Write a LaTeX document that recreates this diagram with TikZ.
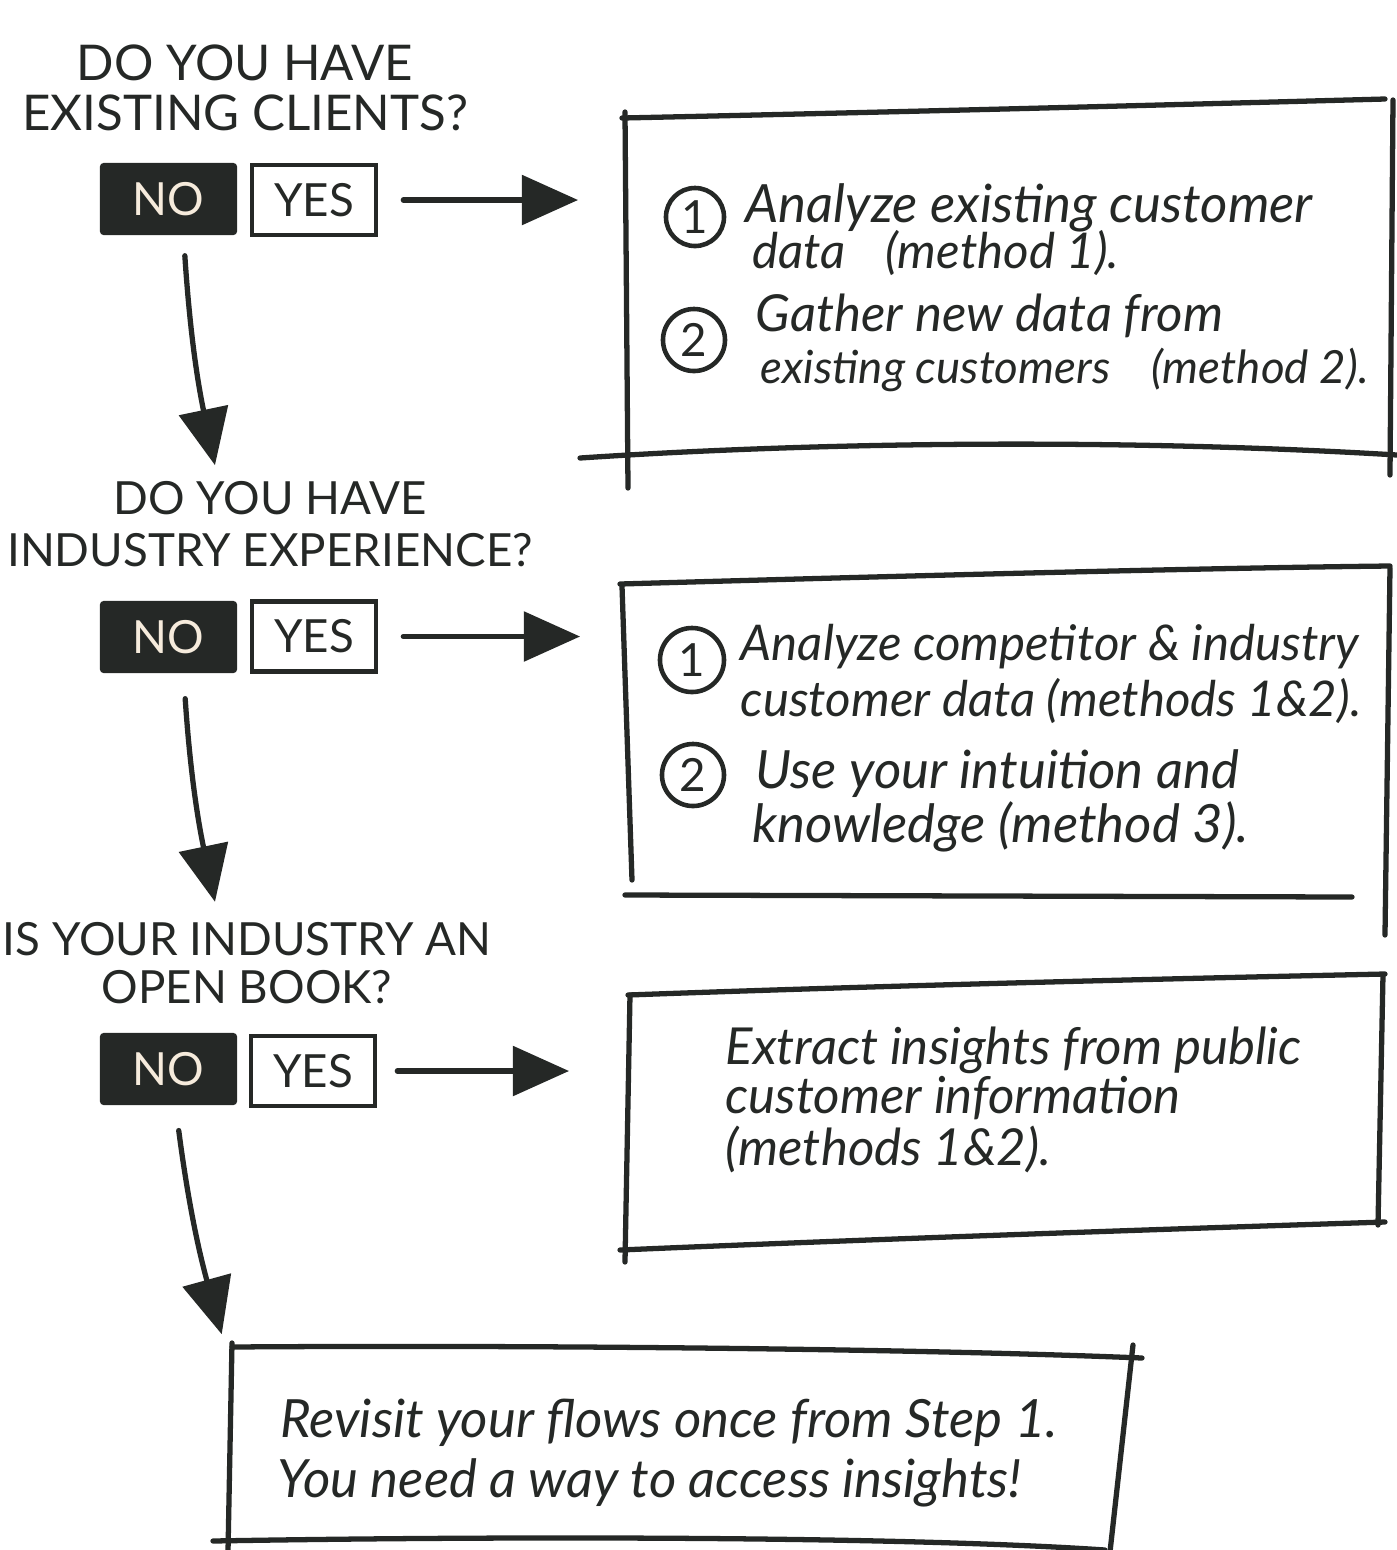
\documentclass[tikz,border=0pt]{standalone}
\usepackage{fontspec}
\setmainfont{Lato}
\usetikzlibrary{arrows.meta}
\definecolor{ink}{HTML}{252826}
\definecolor{cream}{HTML}{F6EBDC}

\tikzset{
  pen/.style={line width=1.5pt, draw=ink, line cap=round, line join=round},
  question/.style={font=\fontsize{14}{14.2}\selectfont, text=ink, align=center, inner sep=0pt},
  nobox/.style={fill=ink, minimum width=1.37cm, minimum height=0.72cm, text=cream,
    font=\fontsize{13}{13}\selectfont, inner sep=0pt, rounded corners=1pt},
  yesbox/.style={draw=ink, line width=1.3pt, minimum width=1.24cm, minimum height=0.70cm,
    text=ink, font=\fontsize{13}{13}\selectfont, inner sep=0pt},
  flow/.style={pen, -{Triangle[length=16pt,width=14pt]}},
  note/.style={font=\itshape\fontsize{14}{14}\selectfont, text=ink, anchor=base west, inner sep=0pt},
  bignote/.style={note, font=\itshape\fontsize{15}{15}\selectfont},
  numring/.style={circle, draw=ink, line width=1.3pt, minimum size=0.58cm, inner sep=0pt,
    font=\fontsize{13}{13}\selectfont, text=ink},
  slot/.style={draw=none, rectangle, inner sep=0pt},
}

\begin{document}
\begin{tikzpicture}[x=0.01cm, y=-0.01cm]
\useasboundingbox (0,0) rectangle (1397,1550);

% ---------- question 1 ----------
\node[question] (q1) at (245,88) {DO YOU HAVE\\EXISTING CLIENTS?};
\node[nobox] (no1) at (168.5,199) {NO};
\node[yesbox] (yes1) at (314,200) {YES};

% ---------- question 2 ----------
\node[question, font=\fontsize{13}{15}\selectfont] (q2) at (270,524) {DO YOU HAVE\\INDUSTRY EXPERIENCE?};
\node[nobox] (no2) at (168.5,637) {NO};
\node[yesbox] (yes2) at (314,636.5) {YES};

% ---------- question 3 ----------
\node[question, font=\fontsize{13}{13.5}\selectfont] (q3) at (247,963) {IS YOUR INDUSTRY AN\\OPEN BOOK?};
\node[nobox] (no3) at (168.5,1069) {NO};
\node[yesbox] (yes3) at (313,1071) {YES};

% ---------- answer areas ----------
\node[slot, minimum width=7.68cm, minimum height=3.45cm] (ans1) at (1008,283) {};
\node[slot, minimum width=7.6cm, minimum height=3.1cm] (ans2) at (1006,735) {};
\node[slot, minimum width=7.5cm, minimum height=2.5cm] (ans3) at (1005,1110) {};
\node[slot, minimum width=9.0cm, minimum height=1.9cm] (ans4) at (680,1445) {};

% sketched outlines
\draw[pen] (622,118) .. controls (900,112) and (1200,104) .. (1385,99);
\draw[pen] (625,112) -- (628,488);
\draw[pen] (1393,100) -- (1390,475);
\draw[pen] (580,458) .. controls (850,440) and (1150,440) .. (1397,455);

\draw[pen] (620,584) .. controls (900,576) and (1200,568) .. (1390,566);
\draw[pen] (622,586) -- (632,880);
\draw[pen] (1390,568) -- (1385,935);
\draw[pen] (625,895) -- (1352,897);

\draw[pen] (628,995) .. controls (900,985) and (1200,978) .. (1385,974);
\draw[pen] (630,995) -- (625,1262);
\draw[pen] (1383,975) -- (1378,1225);
\draw[pen] (620,1250) .. controls (900,1238) and (1200,1228) .. (1385,1222);

\draw[pen] (232,1347) .. controls (500,1345) and (900,1348) .. (1142,1358);
\draw[pen] (232,1343) -- (228,1552);
\draw[pen] (1133,1345) -- (1110,1552);
\draw[pen] (213,1541) .. controls (500,1536) and (900,1536) .. (1105,1550);

% ---------- connectors ----------
\draw[flow, shorten <=0.25cm, shorten >=0.45cm] (yes1.east) -- (yes1.east -| ans1.west);
\draw[flow, shorten <=0.25cm, shorten >=0.45cm] (yes2.east) -- (yes2.east -| ans2.west);
\draw[flow, shorten <=0.2cm, shorten >=0.6cm] (yes3.east) -- (yes3.east -| ans3.west);

\draw[flow, shorten <=0.2cm] ([xshift=0.15cm]no1.south) to[bend right=4] ([xshift=-0.55cm,yshift=0.15cm]q2.north);
\draw[flow, shorten <=0.25cm] ([xshift=0.15cm]no2.south) to[bend right=4] ([xshift=-0.32cm,yshift=0.2cm]q3.north);
\draw[flow, shorten <=0.25cm] ([xshift=0.07cm]no3.south) to[bend right=4] ([xshift=-4.58cm,yshift=0.15cm]ans4.north);

% ---------- answer texts ----------
\node[numring] (n11) at (695,217) {1};
\node[bignote] (t11) at (745,222) {Analyze existing customer};
\node[note] (t12) at (752,268) {data\hspace{0.8em}(method 1).};
\node[numring, minimum size=0.62cm] (n12) at (694,340) {2};
\node[note, font=\itshape\fontsize{14.5}{14.5}\selectfont] (t13) at (755,331) {Gather new data from};
\node[note, font=\itshape\fontsize{13}{13}\selectfont] (t14) at (760,383) {existing customers\hspace{0.9em}(method 2).};

\node[numring, minimum size=0.64cm] (n21) at (692,660) {1};
\node[note] (t21) at (740,660) {Analyze competitor \& industry};
\node[note] (t22) at (740,716) {customer data (methods 1\&2).};
\node[numring, minimum size=0.62cm] (n22) at (693,775) {2};
\node[bignote] (t23) at (755,788) {Use your intuition and};
\node[bignote] (t24) at (752,842) {knowledge (method 3).};

\node[note, font=\itshape\fontsize{14.5}{14.5}\selectfont] (t31) at (725,1064) {Extract insights from public};
\node[note, font=\itshape\fontsize{14.5}{14.5}\selectfont] (t32) at (725,1113) {customer information};
\node[note, font=\itshape\fontsize{14.5}{14.5}\selectfont] (t33) at (725,1165) {(methods 1\&2).};

\node[bignote] (t41) at (280,1437) {Revisit your flows once from Step 1.};
\node[bignote] (t42) at (277,1497) {You need a way to access insights!};
\end{tikzpicture}
\end{document}
